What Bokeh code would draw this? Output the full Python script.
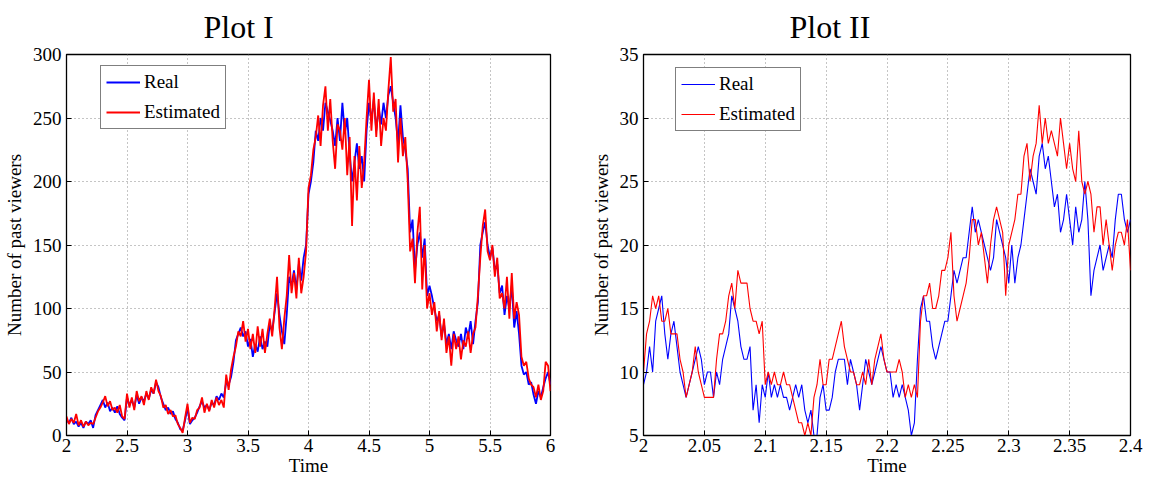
import numpy as np
from bokeh.plotting import figure
from bokeh.layouts import row
from bokeh.models import Legend, LegendItem, Range1d, FixedTicker
from bokeh.embed import file_html
from bokeh.resources import INLINE

FONT = "Liberation Serif"

# ---------------- Plot I data (Time 2..6) ----------------
p1_real = [
    12, 10, 14, 9, 11, 7, 10, 6, 11, 9,
    12, 6, 16, 20, 24, 28, 22, 26, 19, 22,
    18, 23, 17, 14, 12, 30, 24, 28, 22, 32,
    25, 30, 27, 33, 29, 36, 33, 42, 38, 30,
    25, 20, 22, 17, 19, 13, 10, 5, 4, 12,
    22, 9, 12, 14, 18, 23, 27, 22, 24, 20,
    26, 24, 31, 28, 33, 30, 42, 40, 46, 58,
    75, 80, 85, 78, 82, 70, 76, 62, 72, 66,
    78, 68, 74, 70, 88, 82, 97, 112, 95, 82,
    72, 95, 125, 118, 130, 115, 135, 122, 140, 150,
    190, 200, 215, 240, 232, 250, 240, 262, 255, 248,
    240, 228, 250, 232, 262, 238, 250, 222, 200, 215,
    230, 210, 220, 200, 240, 262, 248, 265, 240, 258,
    245, 262, 250, 268, 275, 262, 250, 230, 260, 235,
    225, 210, 160, 170, 130, 150, 160, 140, 155, 110,
    118, 110, 100, 90, 95, 78, 88, 72, 80, 68,
    82, 75, 70, 80, 68, 85, 78, 90, 72, 90,
    105, 150, 160, 168, 150, 140, 148, 130, 135, 112,
    118, 95, 110, 100, 118, 85, 98, 80, 55, 48,
    50, 40, 42, 32, 25, 35, 30, 38, 45, 50,
    40,
]
p1_est = [
    15, 9, 13, 10, 17, 8, 12, 7, 11, 8,
    10, 9, 14, 19, 22, 26, 31, 23, 27, 20,
    22, 18, 24, 15, 13, 33, 22, 30, 20, 35,
    27, 31, 24, 35, 28, 38, 33, 44, 35, 31,
    22, 24, 17, 20, 15, 16, 9, 6, 2, 14,
    25, 10, 14, 13, 20, 22, 30, 18, 25, 19,
    28, 22, 30, 24, 28, 22, 48, 36, 52, 62,
    70, 82, 78, 90, 74, 84, 68, 80, 65, 86,
    70, 84, 65, 80, 92, 78, 100, 125, 85, 68,
    92, 110, 142, 112, 128, 108, 140, 112, 125, 145,
    195, 205, 225, 235, 252, 228, 260, 275, 240, 265,
    232, 210, 245, 240, 225, 250, 205, 235, 165, 220,
    185, 228, 195, 215, 250, 280, 240, 270, 235, 265,
    228, 250, 240, 272, 298, 255, 265, 215, 250, 220,
    235, 200, 145, 155, 120, 160, 180, 115, 150, 100,
    112, 95, 105, 82, 98, 75, 92, 65, 78, 55,
    80, 68, 78, 60, 75, 70, 82, 65, 80, 85,
    110, 140, 165, 178, 145, 138, 150, 125, 140, 108,
    112, 100, 125, 92, 128, 92, 105, 95, 62, 55,
    58, 45, 40, 38, 30, 40, 28, 35, 58, 55,
    35,
]
p1_time = np.linspace(2.0, 6.0, len(p1_real))
p1_xticks = [2, 2.5, 3, 3.5, 4, 4.5, 5, 5.5, 6]
p1_yticks = [0, 50, 100, 150, 200, 250, 300]

# ---------------- Plot II data (Time 2..2.4) ----------------
p2_real = [
    9, 10, 12, 10, 14, 15, 16, 13,
    11, 13, 14, 12, 10, 9, 8, 9,
    10, 11, 12, 11, 9, 10, 10, 8,
    10, 9, 11, 12, 13, 16, 15, 14,
    12, 11, 11, 12, 7, 9, 6, 9,
    8, 10, 8, 9, 8, 9, 8, 8,
    7, 8, 9, 8, 9, 7, 6, 7,
    5, 5, 8, 9, 7, 7, 8, 10,
    11, 11, 11, 9, 11, 10, 9, 7,
    9, 11, 10, 9, 10, 11, 12, 11,
    10, 10, 8, 9, 8, 9, 8, 7,
    5, 6, 11, 15, 16, 14, 14, 12,
    11, 12, 13, 14, 14, 16, 18, 17,
    18, 19, 19, 21, 23, 21, 22, 21,
    20, 19, 18, 19, 22, 21, 20, 19,
    17, 20, 17, 19, 20, 22, 24, 26,
    25, 24, 27, 28, 26, 27, 25, 23,
    24, 21, 22, 24, 22, 20, 23, 21,
    22, 25, 22, 16, 18, 19, 20, 18,
    19, 20, 19, 22, 24, 24, 22, 21,
    22,
]
p2_est = [
    10, 13, 14, 16, 15, 16, 14, 14,
    15, 13, 13, 13, 11, 10, 8, 9,
    10, 12, 10, 9, 8, 8, 8, 8,
    11, 13, 13, 14, 16, 17, 15, 18,
    17, 17, 17, 15, 14, 14, 13, 14,
    9, 10, 9, 10, 9, 9, 10, 9,
    9, 8, 7, 6, 6, 5, 6, 5,
    8, 9, 11, 9, 9, 11, 11, 12,
    13, 14, 12, 11, 10, 10, 9, 9,
    10, 9, 11, 9, 11, 12, 13, 11,
    10, 10, 10, 10, 11, 10, 8, 9,
    8, 9, 8, 14, 16, 16, 17, 15,
    15, 16, 18, 18, 19, 21, 16, 14,
    15, 16, 17, 19, 22, 22, 20, 21,
    19, 17, 20, 22, 23, 22, 21, 16,
    20, 21, 22, 24, 24, 27, 28, 25,
    27, 28, 31, 28, 30, 28, 29, 28,
    27, 30, 28, 26, 28, 26, 25, 29,
    25, 24, 25, 24, 21, 23, 23, 20,
    22, 20, 18, 20, 21, 21, 20, 22,
    18,
]
p2_time = np.linspace(2.0, 2.4, len(p2_real))
p2_xticks = [2, 2.05, 2.1, 2.15, 2.2, 2.25, 2.3, 2.35, 2.4]
p2_yticks = [5, 10, 15, 20, 25, 30, 35]

SERIES = ["Real", "Estimated"]
COLORS = ["#0000ff", "#ff0000"]


def style_axis(ax):
    ax.major_label_text_font = FONT
    ax.major_label_text_font_size = "19px"
    ax.major_label_text_color = "black"
    ax.axis_label_text_font = FONT
    ax.axis_label_text_font_size = "19px"
    ax.axis_label_text_font_style = "normal"
    ax.axis_label_text_color = "black"
    ax.major_tick_in = 5
    ax.major_tick_out = 0
    ax.minor_tick_in = 0
    ax.minor_tick_out = 0
    ax.axis_line_color = "black"
    ax.major_tick_line_color = "black"


def make_plot(title, width, border_left, border_right, title_offset,
              x, real, est, xr, yr, xticks, yticks, line_w, legend_loc):
    p = figure(width=width, height=482, output_backend="svg",
               toolbar_location=None, x_range=Range1d(*xr), y_range=Range1d(*yr),
               min_border_left=border_left, min_border_right=border_right,
               min_border_top=53, min_border_bottom=47)
    p.background_fill_color = "white"
    p.border_fill_color = "white"
    p.outline_line_color = "black"
    p.outline_line_width = 1.3
    p.outline_line_alpha = 1.0

    p.title.text = title
    p.title.text_font = FONT
    p.title.text_font_size = "32px"
    p.title.text_font_style = "normal"
    p.title.text_color = "black"
    p.title.align = "left"
    p.title.vertical_align = "top"
    p.title.offset = title_offset
    p.title.standoff = 16

    r1 = p.line(x, real, line_color=COLORS[0], line_width=line_w)
    r2 = p.line(x, est, line_color=COLORS[1], line_width=line_w)

    style_axis(p.xaxis[0])
    style_axis(p.yaxis[0])
    p.xaxis.ticker = FixedTicker(ticks=xticks)
    p.yaxis.ticker = FixedTicker(ticks=yticks)
    p.xaxis.axis_label = "Time"
    p.yaxis.axis_label = "Number of past viewers"
    p.xaxis.major_label_standoff = 3
    p.xaxis.axis_label_standoff = 0
    p.yaxis.major_label_standoff = 5
    p.yaxis.axis_label_standoff = 5

    p.grid.grid_line_color = "#8a8a8a"
    p.grid.grid_line_dash = "1 3"
    p.grid.grid_line_width = 1

    legend = Legend(items=[LegendItem(label=SERIES[0], renderers=[r1]),
                           LegendItem(label=SERIES[1], renderers=[r2])],
                    location=legend_loc)
    legend.label_text_font = FONT
    legend.label_text_font_size = "19px"
    legend.label_text_color = "black"
    legend.border_line_color = "black"
    legend.border_line_width = 1.5
    legend.background_fill_color = "white"
    legend.background_fill_alpha = 1.0
    legend.glyph_width = 34
    legend.glyph_height = 20
    legend.label_height = 20
    legend.label_standoff = 4
    legend.spacing = 8
    legend.padding = 5
    legend.margin = 0
    p.add_layout(legend)
    return p


p1 = make_plot("Plot I", 580, 65, 30, 137, p1_time, p1_real, p1_est,
               (2, 6), (0, 300), p1_xticks, p1_yticks, 1.8, (34, 306))
p2 = make_plot("Plot II", 591, 63, 41, 146, p2_time, p2_real, p2_est,
               (2, 2.4), (5, 35), p2_xticks, p2_yticks, 1.1, (32, 304))

layout = row(p1, p2)
open("out.html", "w").write(file_html(layout, INLINE))
